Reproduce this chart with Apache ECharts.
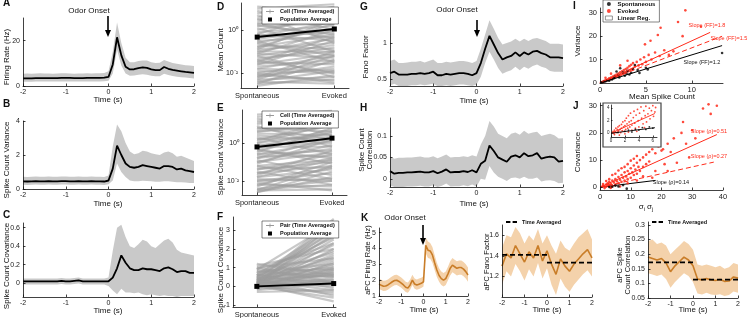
<!DOCTYPE html>
<html><head><meta charset="utf-8">
<script src="https://cdn.jsdelivr.net/npm/echarts@6/dist/echarts.min.js"></script>
<style>html,body{margin:0;padding:0;background:#fff}#c{width:749px;height:318px}</style>
</head><body><div id="c"></div>
<script>
const FONT = 'Liberation Sans, Arial, Helvetica, sans-serif';

// ---------- time grids ----------
const T = [-2,-1.9,-1.8,-1.7,-1.6,-1.5,-1.4,-1.3,-1.2,-1.1,-1,-0.9,-0.8,-0.7,-0.6,-0.5,-0.4,-0.3,-0.2,-0.1,0,0.1,0.2,0.3,0.4,0.5,0.6,0.7,0.8,0.9,1,1.1,1.2,1.3,1.4,1.5,1.6,1.7,1.8,1.9,2];
const TK = [-2,-1.8,-1.6,-1.4,-1.2,-1,-0.8,-0.6,-0.4,-0.2,0,0.2,0.4,0.6,0.8,1,1.2,1.4,1.6,1.8,2];
const timeTicks = [-2,-1,0,1,2];

// ---------- A: firing rate ----------
const rateMean = [3.4,3.4,3.4,3.5,3.5,3.5,3.5,3.5,3.5,3.6,3.6,3.6,3.5,3.5,3.5,3.6,3.6,3.6,3.6,3.7,4.0,9.5,21.5,13.5,8.5,7.3,7.4,7.9,8.2,8.0,7.3,7.0,7.0,8.4,7.6,7.1,6.8,6.5,6.2,6.0,5.8];
const rateHi = [5.4,5.5,5.4,5.5,5.6,5.5,5.5,5.4,5.5,5.6,5.6,5.5,5.4,5.5,5.5,5.6,5.5,5.6,5.6,5.7,6.5,15,28,19,12.5,10.5,10.5,11,11.3,11.2,10.5,10.2,10.3,11.5,10.8,10.2,9.8,9.5,9.2,9.0,8.8];
const rateLo = [1.9,1.9,1.9,2.0,2.0,2.0,2.0,2.0,2.0,2.0,2.0,2.0,2.0,2.0,2.0,2.0,2.0,2.0,2.0,2.1,2.3,5.5,16,9,5.5,4.5,4.6,5.0,5.2,5.0,4.5,4.3,4.3,5.4,4.8,4.4,4.1,3.9,3.7,3.5,3.3];

// ---------- B: spike count variance ----------
const varMean = [0.45,0.44,0.45,0.46,0.45,0.45,0.46,0.45,0.45,0.46,0.46,0.45,0.45,0.46,0.45,0.45,0.46,0.45,0.45,0.44,0.5,1.2,2.55,2.0,1.5,1.3,1.25,1.3,1.4,1.35,1.3,1.25,1.2,1.35,1.35,1.3,1.15,1.2,1.1,1.05,1.0];
const varHi = [0.72,0.7,0.72,0.74,0.72,0.72,0.73,0.72,0.72,0.74,0.74,0.72,0.72,0.73,0.72,0.72,0.74,0.72,0.72,0.7,0.8,2.5,3.8,3.4,2.7,2.2,2.05,2.1,2.25,2.2,2.1,2.05,2.0,2.15,2.2,2.1,1.9,1.95,1.85,1.75,1.65];
const varLo = [0.25,0.24,0.25,0.26,0.25,0.25,0.26,0.25,0.25,0.26,0.26,0.25,0.25,0.26,0.25,0.25,0.26,0.25,0.25,0.24,0.28,0.5,1.5,1.0,0.7,0.5,0.45,0.45,0.48,0.47,0.45,0.43,0.42,0.45,0.45,0.43,0.4,0.4,0.38,0.36,0.35];

// ---------- C: spike count covariance ----------
const covMean = [0.02,0.02,0.02,0.02,0.02,0.02,0.02,0.02,0.02,0.025,0.02,0.02,0.025,0.03,0.02,0.02,0.02,0.02,0.02,0.02,0.02,0.06,0.16,0.3,0.22,0.16,0.14,0.14,0.16,0.15,0.15,0.14,0.13,0.16,0.17,0.15,0.12,0.13,0.13,0.11,0.11];
const covHi = [0.05,0.05,0.05,0.05,0.05,0.05,0.05,0.05,0.05,0.055,0.05,0.05,0.055,0.06,0.05,0.05,0.05,0.05,0.05,0.05,0.06,0.35,0.6,0.63,0.5,0.4,0.38,0.42,0.47,0.45,0.4,0.38,0.42,0.46,0.48,0.44,0.36,0.33,0.32,0.31,0.3];
const covLo = [-0.015,-0.015,-0.015,-0.015,-0.015,-0.015,-0.015,-0.015,-0.015,-0.01,-0.015,-0.015,-0.01,-0.005,-0.015,-0.015,-0.015,-0.015,-0.015,-0.015,-0.03,-0.08,-0.12,-0.06,-0.1,-0.1,-0.11,-0.1,-0.12,-0.13,-0.12,-0.13,-0.14,-0.13,-0.14,-0.14,-0.15,-0.14,-0.14,-0.14,-0.14];

// ---------- D: mean count per cell (log10), spontaneous vs evoked ----------
const meanLog10Spont = [1.0,0.8,0.6,0.5,0.3,0.2,0.0,-0.1,-0.2,-0.3,-0.4,-0.5,-0.6,-0.7,-0.8,-0.9,-1.0,-1.1,-1.2,-1.3,-1.4,-1.5,-1.6,-1.7,-1.8,-1.9,-2.0,-2.1,-2.2,-2.3,-2.4,-2.5,-2.6,0.9,0.4,-0.2,-0.8,-1.5,-2.2,-2.5,0.7,0.1,-0.5,-1.2,-2.0,1.1,0.5,-0.3,-1.0,-1.8,-2.4,0.2,-0.9,-1.6,-2.3,-1.4,-0.6,0.3,-2.1,-1.1];
const meanLog10Evoked = [1.2,0.5,1.0,0.3,0.8,-0.2,0.6,0.2,-0.5,0.4,0.0,-0.3,0.1,-0.9,-0.2,-0.6,-0.4,-1.3,-0.7,-1.0,-0.8,-1.6,-1.1,-1.4,-1.2,-2.0,-1.5,-1.8,-1.7,-2.2,-1.9,-2.3,-2.1,0.0,1.1,0.9,0.3,-0.3,-1.0,-1.4,-0.6,-1.0,-1.5,-2.2,-2.45,0.8,0.5,-0.1,-1.0,-1.9,-2.5,0.3,0.5,-0.5,-1.2,-2.0,-1.2,-0.4,-2.35,0.0];
const meanPop = [0.47, 1.12];

// ---------- E: variance per cell (log10) ----------
const varLog10Spont = [1.5,1.2,1.0,0.8,0.6,0.4,0.2,0.0,-0.2,-0.4,-0.6,-0.8,-1.0,-1.2,-1.4,-1.6,-1.8,-2.0,-2.2,-2.4,-2.6,-2.5,1.3,0.7,0.1,-0.5,-1.1,-1.7,-2.3,-2.6,0.9,0.3,-0.3,-0.9,-1.5,-2.1,1.1,0.5,-0.1,-0.7,-1.3,-1.9,0.2,-0.6,-1.4,-2.0,-2.45,0.6,-0.2,-1.0,-1.8,1.4,-0.4,-1.2,-2.2,0.0,-0.8,-1.6,-2.5,0.8];
const varLog10Evoked = [1.7,0.9,1.4,0.6,1.1,0.1,0.9,0.5,-0.2,0.6,0.1,-0.3,-0.1,-0.9,-0.6,-1.2,-0.9,-1.6,-1.3,-2.0,-1.8,-2.45,0.4,1.5,1.2,0.8,0.2,-0.4,-1.0,-1.5,-0.2,-0.6,-1.1,-1.7,-2.2,-2.5,1.1,0.4,0.0,-0.7,-1.3,-2.0,0.3,-0.4,-1.0,-1.9,-2.2,0.9,0.7,-0.5,-1.4,1.3,-0.8,-1.9,-2.3,1.0,0.3,-0.8,-1.2,0.2];
const varPop = [0.62, 1.8];

// ---------- F: covariance per pair ----------
const pairCovSpont = [0.0,0.1,0.2,0.05,0.3,0.5,0.0,0.15,-0.1,0.2,0.4,0.1,0.6,0.8,1.0,0.3,-0.2,0.0,0.25,0.35,0.45,0.7,0.9,0.05,-0.05,0.1,0.2,0.15,0.6,0.4,-0.3,-0.15,0.3,0.5,0.75,1.1,0.0,0.1,0.05,0.2,0.35,0.55,0.65,0.85,1.2,0.0,-0.1,0.1,0.25,0.45,0.3,0.15,0.9,1.0,0.05,0.2,0.4,0.6,0.0,0.12];
const pairCovEvoked = [0.3,1.2,2.5,3.3,3.6,2.9,2.0,1.6,0.8,0.0,-0.5,-0.8,1.0,0.5,1.5,0.6,0.2,-0.3,1.9,2.2,3.1,2.6,3.4,0.9,0.5,0.1,1.4,2.8,1.8,0.9,-0.2,0.4,-0.2,0.2,1.2,2.0,1.0,0.7,2.3,3.0,1.1,0.7,-0.1,0.9,0.6,-0.6,1.3,1.7,0.35,0.55,2.7,3.5,2.3,0.2,-0.4,0.8,1.5,3.2,0.65,0.25];
const covPop = [0.0, 0.15];

// ---------- G: Fano factor ----------
const ffMean = [0.58,0.6,0.56,0.56,0.56,0.57,0.57,0.58,0.57,0.58,0.6,0.55,0.55,0.57,0.56,0.57,0.58,0.58,0.57,0.55,0.58,0.72,0.92,1.1,0.98,0.86,0.77,0.8,0.82,0.87,0.82,0.87,0.84,0.88,0.89,0.86,0.84,0.8,0.8,0.8,0.79];
const ffHi = [0.75,0.77,0.72,0.72,0.73,0.74,0.74,0.75,0.73,0.75,0.77,0.72,0.72,0.74,0.73,0.74,0.75,0.75,0.74,0.72,0.75,0.92,1.12,1.32,1.2,1.07,0.98,1.0,1.02,1.06,1.02,1.06,1.03,1.06,1.07,1.05,1.03,0.99,0.99,0.99,0.98];
const ffLo = [0.41,0.43,0.4,0.4,0.4,0.41,0.41,0.42,0.41,0.42,0.43,0.4,0.4,0.41,0.4,0.41,0.42,0.42,0.41,0.4,0.42,0.53,0.72,0.88,0.77,0.65,0.57,0.6,0.62,0.67,0.62,0.67,0.64,0.68,0.7,0.67,0.65,0.61,0.6,0.6,0.6];

// ---------- H: spike count correlation ----------
const rhoMean = [0.018,0.012,0.014,0.014,0.015,0.015,0.016,0.017,0.015,0.015,0.018,0.013,0.017,0.022,0.015,0.016,0.016,0.018,0.016,0.02,0.015,0.035,0.042,0.078,0.065,0.05,0.045,0.04,0.052,0.055,0.05,0.06,0.053,0.055,0.06,0.047,0.05,0.052,0.05,0.04,0.042];
const rhoHi = [0.053,0.047,0.049,0.049,0.05,0.05,0.051,0.052,0.05,0.05,0.053,0.048,0.052,0.057,0.05,0.051,0.051,0.053,0.051,0.055,0.052,0.08,0.1,0.135,0.122,0.105,0.1,0.095,0.105,0.108,0.103,0.112,0.105,0.108,0.11,0.1,0.103,0.105,0.102,0.094,0.095];
const rhoLo = [-0.015,-0.019,-0.019,-0.019,-0.018,-0.018,-0.017,-0.016,-0.018,-0.018,-0.015,-0.019,-0.016,-0.011,-0.018,-0.017,-0.017,-0.015,-0.017,-0.013,-0.018,0.0,-0.002,0.03,0.015,0.005,0.0,-0.005,0.002,0.003,0.0,0.005,0.0,0.0,0.003,-0.006,-0.004,-0.003,-0.005,-0.01,-0.009];

// ---------- K: aPC ----------
const apcRateMean = [1.75,1.68,1.62,1.63,1.7,1.8,1.9,1.98,2.0,1.92,1.82,1.7,1.55,1.5,1.7,2.0,1.76,1.7,1.75,1.8,1.9,4.2,3.9,3.85,3.6,3.1,2.64,2.3,2.1,2.0,2.1,2.4,2.75,2.95,2.85,2.75,2.8,2.8,2.7,2.54,2.33];
const apcRateHi = [2.1,2.03,1.97,1.98,2.05,2.15,2.25,2.33,2.35,2.27,2.17,2.05,1.9,1.85,2.05,2.35,2.11,2.05,2.1,2.15,2.25,4.7,4.45,4.35,4.1,3.6,3.1,2.75,2.55,2.45,2.55,2.85,3.2,3.4,3.3,3.2,3.25,3.25,3.15,3.0,2.8];
const apcRateLo = [1.45,1.38,1.32,1.33,1.4,1.5,1.6,1.68,1.7,1.62,1.52,1.4,1.25,1.2,1.4,1.7,1.46,1.4,1.45,1.5,1.6,3.7,3.4,3.35,3.1,2.65,2.2,1.9,1.7,1.6,1.7,2.0,2.3,2.5,2.4,2.3,2.35,2.35,2.25,2.1,1.9];
const apcFFMean = [1.3,1.42,1.38,1.5,1.42,1.34,1.44,1.38,1.5,1.35,1.45,1.32,1.22,1.37,1.3,1.25,1.32,1.37,1.42,1.46,1.38];
const apcFFHi = [1.48,1.6,1.58,1.68,1.62,1.52,1.6,1.55,1.66,1.52,1.6,1.5,1.42,1.55,1.48,1.45,1.52,1.58,1.62,1.66,1.56];
const apcFFLo = [1.12,1.25,1.2,1.32,1.25,1.16,1.27,1.2,1.33,1.18,1.28,1.12,1.02,1.18,1.1,1.05,1.12,1.17,1.22,1.26,1.2];
const apcFFAvg = [1.41, 1.335];
const apcRhoMean = [0.19,0.185,0.18,0.185,0.17,0.14,0.16,0.175,0.19,0.18,0.16,0.115,0.112,0.117,0.112,0.11,0.113,0.107,0.108,0.122,0.118];
const apcRhoHi = [0.245,0.25,0.235,0.24,0.23,0.2,0.215,0.23,0.245,0.235,0.215,0.165,0.16,0.165,0.16,0.155,0.16,0.15,0.155,0.17,0.165];
const apcRhoLo = [0.135,0.13,0.125,0.13,0.115,0.085,0.105,0.12,0.135,0.125,0.105,0.065,0.062,0.068,0.062,0.06,0.063,0.057,0.06,0.072,0.068];
const apcRhoAvg = [0.172, 0.113];

// ---------- I: variance vs mean ----------
const iSpont = [[0.2,0.3],[0.4,0.5],[0.6,0.7],[0.8,1.1],[1.0,1.0],[1.1,1.6],[1.3,1.5],[1.5,2.0],[1.6,2.6],[1.8,4.9],[2.0,3.4],[2.1,2.4],[2.2,6.3],[2.5,4.5],[2.7,3.1],[2.9,4.0],[3.0,5.2],[3.2,3.6],[3.4,4.4],[3.6,6.0],[3.8,7.7],[4.1,5.5],[4.3,4.3],[5.0,6.5],[5.2,5.8],[13.3,12.8]];
const iEvoked = [[0.1,0.15],[0.2,0.3],[0.3,0.5],[0.4,0.6],[0.5,0.9],[0.6,1.0],[0.7,1.2],[0.8,1.5],[0.9,1.4],[1.0,2.0],[1.1,1.7],[1.2,2.3],[1.3,2.0],[1.4,2.8],[1.5,2.4],[1.6,3.2],[1.7,2.6],[1.8,3.6],[1.9,2.9],[2.0,4.0],[2.1,3.3],[2.2,4.6],[2.3,3.5],[2.4,5.0],[2.5,4.0],[2.6,5.5],[2.7,4.3],[2.8,6.0],[2.9,4.8],[3.0,6.5],[3.1,5.0],[3.2,7.2],[3.3,5.5],[3.4,7.8],[3.5,6.0],[3.6,8.5],[3.8,7.0],[4.0,9.0],[4.2,7.5],[4.4,10.0],[4.6,8.0],[4.8,11.0],[5.0,9.0],[5.3,12.0],[5.6,10.0],[6.0,13.0],[6.5,11.5],[7.0,14.0],[7.5,12.0],[8.0,13.5],[4.9,16.5],[5.5,18.0],[6.6,23.6],[6.3,20.5],[9.3,31.0],[9.0,20.0],[3.0,9.5],[2.2,7.5],[8.5,26.0],[11.0,24.0],[1.2,4.0],[0.6,2.2]];
const iSlopes = [1.8, 1.5, 1.2];
const iLineEnd = [12.0, 13.3, 13.3];

// ---------- J: covariance vs sigma_i sigma_j ----------
const jEvoked = [[0.5,0.2],[1,0.5],[1.5,0.3],[2,1],[2,0.2],[2.5,1.5],[3,0.8],[3,2],[3.5,1.2],[4,2.5],[4,0.5],[4.5,1.8],[5,3],[5,1],[5.5,2.2],[6,3.8],[6,1.5],[6.5,2.8],[7,4.5],[7,2],[7.5,3.5],[8,5.5],[8,2.5],[8.5,4],[9,6],[9,3],[9.5,5],[10,7],[10,3.5],[10.5,5.5],[11,8],[11,4.5],[11.5,6.5],[12,9],[12,5],[12.5,7.5],[13,10],[13,6],[14,11],[14,7.5],[15,12],[15,8.5],[16,13],[16,9.5],[17,14],[18,12.5],[19,15],[20,13.5],[20.5,14],[22,16],[23,13],[24,18],[26.5,20],[27,24],[30,21],[33.5,29],[35.3,30.5],[38,30],[25,9],[21,8.5],[18,6],[16,15.5],[14,4],[3,3],[4,4.5],[2,2.3],[1,1.2],[5,5],[6,6.2],[7,7],[8,7.5],[9,8.5],[10,9.8],[11,10.5],[12,11.5],[1.5,-0.3],[3.5,-0.2],[6.5,0.3],[9,1.5],[12,2.5],[28,16],[31,18],[36,27],[17,3.5],[22,6],[29,11],[3.5,0],[2.5,0.7]];
const jSpont = [[8.7,-0.5],[7.5,0.8],[6,0.3],[5,0.6],[4,0.2],[3,0.1]];
const jSlopes = [0.51, 0.25, 0.14];
const jLineEnd = [38, 37, 18];
const insetEvoked = [[0.2,0.1],[0.3,0.3],[0.4,0],[0.5,0.5],[0.6,0.2],[0.7,0.8],[0.8,0.1],[0.9,0.6],[1.0,1.0],[1.0,0.2],[1.1,0.4],[1.2,1.2],[1.3,0.6],[1.4,0.1],[1.5,1.4],[1.5,0.8],[1.6,0.4],[1.7,1.8],[1.8,1.0],[1.9,0.3],[2.0,2.0],[2.0,1.2],[2.1,0.6],[2.2,2.4],[2.3,1.5],[2.4,0.8],[2.5,2.8],[2.5,0.2],[2.6,1.8],[2.7,1.0],[2.8,3.2],[2.9,2.0],[3.0,1.3],[3.0,0.5],[3.2,2.5],[3.3,3.5],[3.4,1.6],[3.5,0.8],[3.6,2.9],[3.8,3.8],[3.9,2.0],[4.0,1.0],[4.1,3.2],[4.3,4.2],[4.4,2.4],[4.6,1.5],[4.7,3.6],[4.9,2.8],[5.0,4.3],[5.1,1.8],[5.3,3.1],[5.5,4.0],[5.6,2.3],[5.8,3.6],[6.0,4.4],[6.1,2.7],[6.3,3.4],[0.5,-0.2],[1.2,-0.3],[2.0,-0.1],[6.4,4.1],[3.7,0.3],[4.8,0.9]];
const insetSpont = [[1.0,0.1],[2.0,0.3],[2.5,0.5],[3.0,0.2],[3.5,0.6],[4.0,0.5],[4.5,0.9],[5.0,0.6],[5.5,1.0],[6.0,0.8]];
const insetSlopes = [0.5, 0.14];
const insetLineEnd = 6.3;

// ======================================================
const GREY_BAND = '#c9c9c9', ORANGE = '#c97d28', PEACH = '#f4d2ab', RED = '#ff2a1a';
const grids = [
  [23,18,171,68],[23,121,171,68],[23,223,171,74],
  [241,3,108,85],[242,110,105,85],[233,217,103,90],
  [390,18,173,68],[390,118,173,69],
  [379,228,89,68],[502,225,90,72],[648,222,90,76],
  [600,8,123,75],[600,103,123,87],[611,105,46,32]
];
function axisBase(gi, fs) {
  return {
    gridIndex: gi, type: 'value', z: 5,
    axisLine: {show:true, onZero:false, lineStyle:{color:'#111', width:0.8}},
    axisTick: {show:true, inside:true, length:2.5, lineStyle:{color:'#111', width:0.8}},
    axisLabel: {color:'#222', fontSize: fs || 7, fontFamily: FONT, margin: 3},
    splitLine: {show:false}, splitArea:{show:false}
  };
}
function mkAxis(gi, min, max, ticks, o) {
  o = o || {};
  const a = axisBase(gi, o.fs);
  if (o.type) a.type = o.type;
  if (a.type === 'log') a.logBase = 10;
  a.min = min; a.max = max;
  if (ticks) { a.axisLabel.customValues = ticks; a.axisTick.customValues = ticks; }
  if (o.formatter) a.axisLabel.formatter = o.formatter;
  if (o.margin != null) a.axisLabel.margin = o.margin;
  if (o.tickLen != null) a.axisTick.length = o.tickLen;
  if (o.z != null) a.z = o.z;
  return a;
}
const catFmt = v => (Math.abs(v) < 0.01 ? 'Spontaneous' : 'Evoked');
const supFmt = v => { const e = Math.round(Math.log10(v)); return e === 0 ? '10\u2070' : '10\u207B\u00B2'; };

const xAxes = [
  mkAxis(0,-2,2,timeTicks), mkAxis(1,-2,2,timeTicks), mkAxis(2,-2,2,timeTicks),
  mkAxis(3,-0.21,1.19,[0,1],{formatter:catFmt, fs:7.5, margin:4}),
  mkAxis(4,-0.2,1.2,[0,1],{formatter:catFmt, fs:7.5, margin:4}),
  mkAxis(5,-0.31,1.03,[0,1],{formatter:catFmt, fs:7.5, margin:4}),
  mkAxis(6,-2,2,timeTicks), mkAxis(7,-2,2,timeTicks),
  mkAxis(8,-2,2,timeTicks), mkAxis(9,-2,2,timeTicks), mkAxis(10,-2,2,timeTicks),
  mkAxis(11,0,13.4,[0,5,10],{fs:7.5}), mkAxis(12,0,40,[0,10,20,30,40],{fs:7.5}),
  mkAxis(13,0,6.6,[0,2,4,6],{fs:4.5, margin:1.5, tickLen:1.5, z:9})
];
const yAxes = [
  mkAxis(0,0,30,[0,20]), mkAxis(1,0,4,[0,2,4]), mkAxis(2,-0.15,0.65,[0,0.2,0.4,0.6]),
  mkAxis(3,0.002,18.2,[0.01,1],{type:'log', formatter:supFmt}),
  mkAxis(4,0.0018,55,[0.01,1],{type:'log', formatter:supFmt}),
  mkAxis(5,-1.1,3.7,[-1,0,1,2,3]),
  mkAxis(6,0.4,1.35,[0.5,1]), mkAxis(7,-0.019,0.142,[0,0.05,0.1]),
  mkAxis(8,1,5.3,[1,2,3,4,5]), mkAxis(9,1,1.7,[1.2,1.4,1.6]), mkAxis(10,0.05,0.31,[0.05,0.1,0.15,0.2,0.25,0.3]),
  mkAxis(11,0,32,[0,10,20,30],{fs:7.5}), mkAxis(12,-1,31,[0,10,20,30],{fs:7.5}),
  mkAxis(13,-0.6,4.5,[0,2,4],{fs:4.5, margin:1.5, tickLen:1.5, z:9})
];

const series = [];
function band(gi, t, lo, hi, fill) {
  const data = t.map((x,i) => [x, lo[i], hi[i]]);
  series.push({type:'custom', xAxisIndex:gi, yAxisIndex:gi, silent:true, z:1, clip:true, data:data,
    encode:{x:0, y:[1,2]},
    renderItem: function (params, api) {
      if (params.dataIndex !== 0) return null;
      const top = data.map(d => api.coord([d[0], d[2]]));
      const bot = data.map(d => api.coord([d[0], d[1]])).reverse();
      return {type:'polygon', shape:{points: top.concat(bot)}, style:{fill: fill, stroke: null}};
    }});
}
function meanLine(gi, t, m, color, w) {
  series.push({type:'line', xAxisIndex:gi, yAxisIndex:gi, symbol:'none', z:4,
    lineStyle:{color:color, width:w}, data:t.map((x,i)=>[x, m[i]])});
}
band(0,T,rateLo,rateHi,GREY_BAND); meanLine(0,T,rateMean,'#000',1.8);
band(1,T,varLo,varHi,GREY_BAND); meanLine(1,T,varMean,'#000',1.8);
band(2,T,covLo,covHi,GREY_BAND); meanLine(2,T,covMean,'#000',1.8);
band(6,T,ffLo,ffHi,GREY_BAND); meanLine(6,T,ffMean,'#000',1.8);
band(7,T,rhoLo,rhoHi,GREY_BAND); meanLine(7,T,rhoMean,'#000',1.8);
band(8,T,apcRateLo,apcRateHi,PEACH); meanLine(8,T,apcRateMean,ORANGE,1.6);
band(9,TK,apcFFLo,apcFFHi,PEACH); meanLine(9,TK,apcFFMean,ORANGE,1.6);
band(10,TK,apcRhoLo,apcRhoHi,PEACH); meanLine(10,TK,apcRhoMean,ORANGE,1.6);

function avgDash(gi, avg) {
  series.push({type:'line', name:'Time Averaged', xAxisIndex:gi, yAxisIndex:gi, symbol:'none', z:5, color:'#000',
    lineStyle:{color:'#000', width:1.8, type:[5,3]}, data:[[-2,avg[0]],[0,avg[0]],[0,null],[0,avg[1]],[2,avg[1]]]});
}
avgDash(9, apcFFAvg); avgDash(10, apcRhoAvg);

function pairLines(gi, name, sp, ev, isLog, pop) {
  for (let i = 0; i < sp.length; i++) {
    const a = isLog ? Math.pow(10, sp[i]) : sp[i];
    const b = isLog ? Math.pow(10, ev[i]) : ev[i];
    series.push({type:'line', name:name, xAxisIndex:gi, yAxisIndex:gi, symbol:'none', silent:true, color:'#9a9a9a',
      lineStyle:{color:'#9c9c9c', width:2.1, opacity:0.55}, data:[[0,a],[1,b]]});
  }
  series.push({type:'line', name:'Population Average', xAxisIndex:gi, yAxisIndex:gi, symbol:'rect', symbolSize:5, z:5,
    color:'#000', itemStyle:{color:'#000'}, lineStyle:{color:'#000', width:2}, data:[[0,pop[0]],[1,pop[1]]]});
}
pairLines(3,'Cell (Time Averaged)',meanLog10Spont,meanLog10Evoked,true,meanPop);
pairLines(4,'Cell (Time Averaged)',varLog10Spont,varLog10Evoked,true,varPop);
pairLines(5,'Pair (Time Averaged)',pairCovSpont,pairCovEvoked,false,covPop);

// I
series.push({type:'scatter', name:'Evoked', xAxisIndex:11, yAxisIndex:11, symbolSize:2.6, color:RED, itemStyle:{color:RED, opacity:0.85}, data:iEvoked, z:3});
series.push({type:'scatter', name:'Spontaneous', xAxisIndex:11, yAxisIndex:11, symbolSize:2.6, color:'#000', itemStyle:{color:'#000'}, data:iSpont, z:3});
function regLine(gi, slope, xe, color, dash, name, w, z) {
  series.push({type:'line', name:name, xAxisIndex:gi, yAxisIndex:gi, symbol:'none', z:z||4, color:color,
    lineStyle:{color:color, width:w||1, type: dash ? [5,3] : 'solid'}, data:[[0,0],[xe, slope*xe]]});
}
regLine(11,iSlopes[0],iLineEnd[0],RED,false);
regLine(11,iSlopes[1],iLineEnd[1],RED,true);
regLine(11,iSlopes[2],iLineEnd[2],'#000',false,'Linear Reg.');
// J
series.push({type:'scatter', xAxisIndex:12, yAxisIndex:12, symbolSize:2.6, itemStyle:{color:RED, opacity:0.85}, data:jEvoked, z:2});
series.push({type:'scatter', xAxisIndex:12, yAxisIndex:12, symbolSize:2.6, itemStyle:{color:'#000'}, data:jSpont, z:2});
regLine(12,jSlopes[0],jLineEnd[0],RED,false,undefined,1,2);
regLine(12,jSlopes[1],jLineEnd[1],RED,true,undefined,1,2);
regLine(12,jSlopes[2],jLineEnd[2],'#000',false,undefined,1,2);
// inset
series.push({type:'scatter', xAxisIndex:13, yAxisIndex:13, symbolSize:1.8, itemStyle:{color:RED, opacity:0.85}, data:insetEvoked, z:7});
series.push({type:'scatter', xAxisIndex:13, yAxisIndex:13, symbolSize:1.8, itemStyle:{color:'#000'}, data:insetSpont, z:7});
regLine(13,insetSlopes[0],insetLineEnd,RED,false,undefined,0.9,8);
regLine(13,insetSlopes[1],insetLineEnd,'#000',false,undefined,0.9,8);

// legends
const legText = fs => ({fontSize:fs, fontWeight:'bold', fontFamily:FONT, color:'#111'});
const crossIcon = 'path://M0,4.5H10V5.5H0ZM4.5,2.5H5.5V7.5H4.5Z';
const sqIcon = 'path://M0,2H0.05V2.05H0ZM3,0H7V4H3ZM10,2H10.05V2.05H10Z';
function boxLegend(left, top, names) {
  return {left:left, top:top, orient:'vertical', itemGap:2, itemWidth:10, itemHeight:4, padding:[1.5,4,1.5,3],
    borderColor:'#333', borderWidth:0.6, backgroundColor:'#fff', selectedMode:false, textStyle:legText(5.5),
    data:[{name:names[0], icon:crossIcon, itemStyle:{color:'#999'}}, {name:'Population Average', icon:sqIcon, itemStyle:{color:'#000'}}]};
}
const dashIcon = 'path://M0,0H4V2H0ZM6,0H10V2H6Z';
const legends = [
  boxLegend(262,7,['Cell (Time Averaged)']),
  boxLegend(262,111,['Cell (Time Averaged)']),
  boxLegend(262,221,['Pair (Time Averaged)']),
  {left:603, top:0, orient:'vertical', itemGap:1, itemWidth:7, itemHeight:4, padding:[1,4,1,2], borderColor:'#333', borderWidth:0.6,
   backgroundColor:'#fff', selectedMode:false, textStyle:legText(6),
   data:[{name:'Spontaneous', icon:'circle', itemStyle:{color:'#000'}},{name:'Evoked', icon:'circle', itemStyle:{color:RED}},
         {name:'Linear Reg.', icon:'rect', itemStyle:{color:'#fff', borderColor:'#777', borderWidth:0.8}}]},
  {left:506, top:219, itemWidth:11, itemHeight:2.5, padding:0, selectedMode:false, textStyle:legText(5.5),
   data:[{name:'Time Averaged', icon:dashIcon, itemStyle:{color:'#000'}}]},
  {left:652, top:219, itemWidth:11, itemHeight:2.5, padding:0, selectedMode:false, textStyle:legText(5.5),
   data:[{name:'Time Averaged', icon:dashIcon, itemStyle:{color:'#000'}}]}
];

// graphics (labels, arrows, inset frame)
const G = [];
function txt(x, y, s, o) {
  o = o || {};
  const st = {text:s, fill:o.color||'#111', fontSize:o.fs||8, fontWeight:o.bold?'bold':'normal', fontFamily:FONT,
      textAlign:o.align||'center', textVerticalAlign:o.va||'middle', lineHeight:o.lh||undefined};
  if (o.rich) st.rich = o.rich;
  G.push({type:'text', x:x, y:y, rotation:o.rot ? Math.PI/2 : 0, z:20, silent:true, style:st});
}
[['A',3,-1.5],['B',3,99],['C',3,210],['D',217,2],['E',217,103],['F',217,212],['G',360,2],['H',360,103],['K',361,213],['I',573,1],['J',573,101]]
  .forEach(l => txt(l[1], l[2], l[0], {bold:true, fs:10, align:'left', va:'top'}));
[['Firing Rate (Hz)',6.5,57,8],['Spike Count Variance',6.5,160,8],['Spike Count Covariance',6.5,266,8],
 ['Mean Count',221,50,8],['Spike Count Variance',221,157,8],['Spike Count Covariance',221,270,8],
 ['Fano Factor',366,57,8],['Spike Count\nCorrelation',366,150,8],['aPC Firing Rate (Hz)',368,260,7.5],
 ['aPC Fano Factor',487,262,7.5],['aPC Spike\nCount Correlation',624,265,7.5],['Variance',578,41,8],['Covariance',578,152,8]]
  .forEach(l => txt(l[1], l[2], l[0], {rot:true, lh:8.5, fs:l[3]}));
[[108,100],[108,204],[108,311],[474,101],[474,204],[424,310],[547,310],[693,310]]
  .forEach(p => txt(p[0], p[1], 'Time (s)'));
txt(662,97,'Mean Spike Count',{fs:8});
txt(646,207,'{a|\u03C3}{s|i} {a|\u03C3}{s|j}',{fs:8, rich:{
  a:{fontSize:8, lineHeight:11, fontFamily:FONT, fill:'#111'},
  s:{fontSize:5.5, lineHeight:6, verticalAlign:'bottom', fontFamily:FONT, fill:'#111'}}});
txt(89,11,'Odor Onset'); txt(457,10,'Odor Onset'); txt(405,218,'Odor Onset');
function arrow(x, y1, y2) {
  G.push({type:'line', z:20, silent:true, shape:{x1:x, y1:y1, x2:x, y2:y2-5}, style:{stroke:'#000', lineWidth:1.6}});
  G.push({type:'polygon', z:20, silent:true, shape:{points:[[x-3,y2-7],[x+3,y2-7],[x,y2]]}, style:{fill:'#000'}});
}
arrow(108,16,37); arrow(477,20,37); arrow(423,225,245);
txt(707,25,'Slope (FF)=1.8',{fs:5.5, color:RED});
txt(729,38,'Slope (FF)=1.5',{fs:5.5, color:RED});
txt(702,62,'Slope (FF)=1.2',{fs:5.5, color:'#111'});
txt(709,131,'Slope (\u03C1)=0.51',{fs:5.5, color:RED});
txt(709,156,'Slope (\u03C1)=0.27',{fs:5.5, color:RED});
txt(671,182,'Slope (\u03C1)=0.14',{fs:5.5, color:'#111'});
G.push({type:'rect', z:3, silent:true, shape:{x:603, y:103, width:58, height:44}, style:{fill:'#fff', stroke:'#444', lineWidth:1.2}});

const option = {
  animation:false, backgroundColor:'#fff',
  grid: grids.map(g => ({left:g[0], top:g[1], width:g[2], height:g[3], containLabel:false, outerBoundsMode:'none', z: 0})),
  xAxis: xAxes, yAxis: yAxes, series: series, legend: legends,
  graphic: {elements: G}
};
const chart = echarts.init(document.getElementById('c'), null, {renderer:'canvas'});
chart.setOption(option);
</script></body></html>
